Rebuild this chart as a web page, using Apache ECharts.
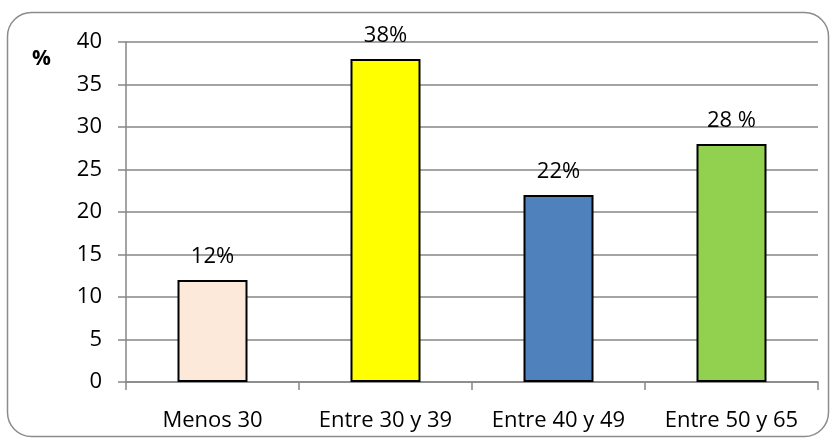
<!DOCTYPE html>
<html>
<head>
<meta charset="utf-8">
<script src="https://cdn.jsdelivr.net/npm/echarts@6/dist/echarts.min.js"></script>
<style>
  html, body { margin: 0; padding: 0; background: #fff; }
  #chart { width: 837px; height: 444px; }
</style>
</head>
<body>
<div id="chart"></div>
<script>
// datos del gráfico
const categorias = ['Menos 30', 'Entre 30 y 39', 'Entre 40 y 49', 'Entre 50 y 65']
const valores = [12, 38, 22, 28]
const etiquetas = ['12%', '38%', '22%', '28 %']
const colores = ['#FDE9D9', '#FFFF00', '#4F81BD', '#92D050']

const chart = echarts.init(document.getElementById('chart'))

const fuente = "'Open Sans', 'Liberation Sans', sans-serif"

const option = {
  animation: false,
  graphic: [{
    type: 'rect',
    shape: { x: 7.5, y: 12.5, width: 821, height: 424, r: 24 },
    style: { fill: 'none', stroke: '#8c8c8c', lineWidth: 1.5 },
    z: -1
  }, {
    type: 'text',
    x: 32,
    y: 59,
    style: { text: '%', font: 'bold 21px ' + fuente, fill: '#000', verticalAlign: 'middle' }
  }],
  grid: { left: 126, right: 19, top: 42, bottom: 62 },
  xAxis: {
    type: 'category',
    data: categorias,
    axisLine: { lineStyle: { color: '#868686', width: 1.5 } },
    axisTick: { show: true, interval: 0, length: 8, alignWithLabel: false, lineStyle: { color: '#868686', width: 1.5 } },
    axisLabel: { interval: 0, color: '#000', fontSize: 22, fontFamily: fuente, margin: 28 }
  },
  yAxis: {
    type: 'value',
    min: 0,
    max: 40,
    interval: 5,
    axisLine: { show: true, lineStyle: { color: '#868686', width: 1.5 } },
    axisTick: { show: true, length: 8, lineStyle: { color: '#868686', width: 1.5 } },
    axisLabel: { color: '#000', fontSize: 22, fontFamily: fuente, margin: 24 },
    splitLine: { show: true, lineStyle: { color: '#868686', width: 1.5 } }
  },
  series: [{
    type: 'bar',
    barWidth: 70,
    data: valores.map((v, i) => ({
      value: v,
      itemStyle: { color: colores[i] },
      label: { formatter: etiquetas[i] }
    })),
    itemStyle: { borderColor: '#000', borderWidth: 2 },
    label: {
      show: true,
      position: 'top',
      distance: 12,
      color: '#000',
      fontSize: 22,
      fontFamily: fuente
    }
  }]
}

chart.setOption(option)
</script>
</body>
</html>
